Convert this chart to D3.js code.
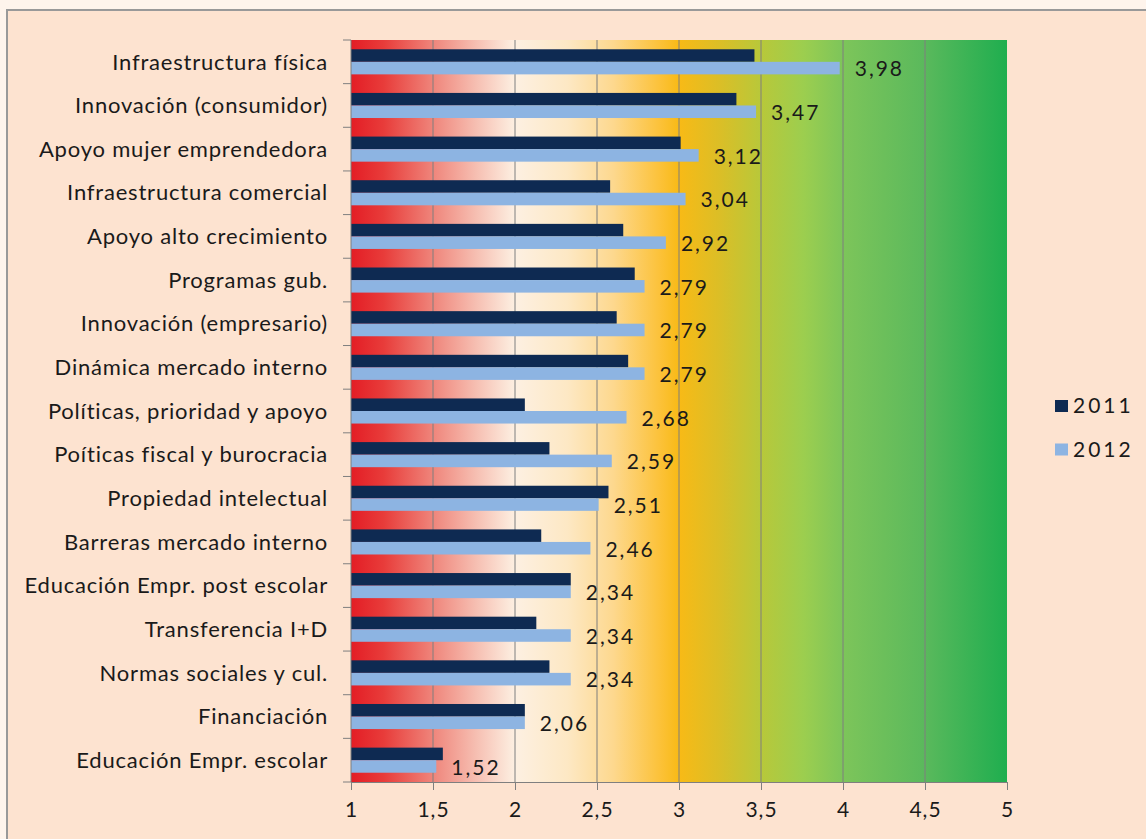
<!DOCTYPE html>
<html>
<head>
<meta charset="utf-8">
<script src="https://cdn.jsdelivr.net/npm/d3@7"></script>
<style>
  body { margin: 0; background: #fef4ec; }
  svg { display: block; font-family: Lato, "DejaVu Sans", sans-serif; }
</style>
</head>
<body>
<div id="chart"></div>
<script>
// data
var categories = [
    "Infraestructura física",
    "Innovación (consumidor)",
    "Apoyo mujer emprendedora",
    "Infraestructura comercial",
    "Apoyo alto crecimiento",
    "Programas gub.",
    "Innovación (empresario)",
    "Dinámica mercado interno",
    "Políticas, prioridad y apoyo",
    "Poíticas fiscal y burocracia",
    "Propiedad intelectual",
    "Barreras mercado interno",
    "Educación Empr. post escolar",
    "Transferencia I+D",
    "Normas sociales y cul.",
    "Financiación",
    "Educación Empr. escolar"
];
var values2011 = [3.46, 3.35, 3.01, 2.58, 2.66, 2.73, 2.62, 2.69, 2.06, 2.21, 2.57, 2.16, 2.34, 2.13, 2.21, 2.06, 1.56];
var values2012 = [3.98, 3.47, 3.12, 3.04, 2.92, 2.79, 2.79, 2.79, 2.68, 2.59, 2.51, 2.46, 2.34, 2.34, 2.34, 2.06, 1.52];
var seriesNames = ["2011", "2012"];
var xTicks = [1, 1.5, 2, 2.5, 3, 3.5, 4, 4.5, 5];

var W = 1146, H = 839;
var margin = { top: 40, right: 139, bottom: 57, left: 351 };
var width = W - margin.left - margin.right;
var height = H - margin.top - margin.bottom;

var colors = { "2011": "#0e2a52", "2012": "#8db4e2" };

var locale = d3.formatLocale({ decimal: ",", thousands: ".", grouping: [3], currency: ["", "€"] });
var fmtTick = locale.format("~g");
var fmtVal = locale.format(".2f");

var svg = d3.select("#chart").append("svg")
    .attr("width", W)
    .attr("height", H);

// frame
svg.append("rect")
    .attr("x", 7).attr("y", 10)
    .attr("width", W).attr("height", H)
    .style("fill", "#fde3d0")
    .style("stroke", "#999")
    .style("stroke-width", 2);

var defs = svg.append("defs");
var grad = defs.append("linearGradient")
    .attr("id", "bg")
    .attr("x1", "0%").attr("x2", "100%")
    .attr("y1", "0%").attr("y2", "0%");
[
    [0, "#e31d25"], [0.05, "#e83c3a"], [0.125, "#ef857b"], [0.19, "#f6beb1"],
    [0.25, "#fdf0e2"], [0.33, "#fde8c4"], [0.4, "#fdd88e"], [0.47, "#fcc23a"],
    [0.5, "#f8ba16"], [0.56, "#dcbe26"], [0.625, "#b8c83a"], [0.69, "#9cce4f"],
    [0.75, "#7dc55a"], [0.875, "#5ab95c"], [1, "#1fae4f"]
].forEach(function (s) {
    grad.append("stop").attr("offset", s[0]).attr("stop-color", s[1]);
});

var g = svg.append("g")
    .attr("transform", "translate(" + margin.left + "," + margin.top + ")");

var x = d3.scaleLinear().domain([1, 5]).range([0, width]);
var y0 = d3.scaleBand().domain(categories).range([0, height]).padding(0);
var y1 = d3.scaleBand().domain(seriesNames).range([0, y0.bandwidth()])
    .paddingInner(0).paddingOuter(0.74);

// gradient background
g.append("rect")
    .attr("width", width).attr("height", height)
    .style("fill", "url(#bg)");

// gridlines
g.selectAll(".grid")
    .data(xTicks.slice(1, -1))
    .enter().append("line")
    .attr("class", "grid")
    .attr("x1", function (d) { return x(d); })
    .attr("x2", function (d) { return x(d); })
    .attr("y1", 0).attr("y2", height)
    .style("stroke", "#7f7f7f")
    .style("stroke-width", 1);

// bars
var rows = categories.map(function (c, i) {
    return { cat: c, vals: [
        { key: "2011", v: values2011[i] },
        { key: "2012", v: values2012[i] }
    ] };
});

var row = g.selectAll(".row")
    .data(rows)
    .enter().append("g")
    .attr("class", "row")
    .attr("transform", function (d) { return "translate(0," + y0(d.cat) + ")"; });

row.selectAll("rect")
    .data(function (d) { return d.vals; })
    .enter().append("rect")
    .attr("x", 0)
    .attr("y", function (d) { return y1(d.key); })
    .attr("width", function (d) { return x(d.v) - x(1); })
    .attr("height", y1.bandwidth())
    .style("fill", function (d) { return colors[d.key]; });

// value labels (2012 only)
row.append("text")
    .attr("x", function (d) { return x(d.vals[1].v) + 15; })
    .attr("y", y1("2012") + y1.bandwidth() / 2 + 1)
    .attr("dy", ".35em")
    .style("font-size", "21px")
    .style("letter-spacing", "2px")
    .style("fill", "#1a1a1a")
    .text(function (d) { return fmtVal(d.vals[1].v); });

// y axis: line + ticks on band boundaries
g.append("line")
    .attr("x1", 0).attr("x2", 0).attr("y1", 0).attr("y2", height)
    .style("stroke", "#7f7f7f");
var bounds = categories.map(function (c) { return y0(c); }).concat([height]);
g.selectAll(".ytick")
    .data(bounds)
    .enter().append("line")
    .attr("x1", -8).attr("x2", 0)
    .attr("y1", function (d) { return d; })
    .attr("y2", function (d) { return d; })
    .style("stroke", "#7f7f7f");

g.selectAll(".cat")
    .data(categories)
    .enter().append("text")
    .attr("class", "cat")
    .attr("x", -23)
    .attr("y", function (d) { return y0(d) + y0.bandwidth() / 2; })
    .attr("dy", ".35em")
    .style("text-anchor", "end")
    .style("font-size", "22px")
    .style("letter-spacing", "0.8px")
    .style("fill", "#1a1a1a")
    .text(function (d) { return d; });

// x axis
var xAxis = g.append("g")
    .attr("transform", "translate(0," + height + ")")
    .call(d3.axisBottom(x).tickValues(xTicks).tickFormat(fmtTick).tickSize(8).tickPadding(12));
xAxis.select(".domain").style("stroke", "#7f7f7f");
xAxis.selectAll(".tick line").style("stroke", "#7f7f7f");
xAxis.selectAll("text")
    .style("font-family", "Lato, sans-serif")
    .style("font-size", "21px")
    .style("letter-spacing", "1px")
    .style("fill", "#1a1a1a");

// legend
var legend = svg.selectAll(".legend")
    .data(seriesNames)
    .enter().append("g")
    .attr("class", "legend")
    .attr("transform", function (d, i) { return "translate(1055," + (400 + i * 43.5) + ")"; });
legend.append("rect")
    .attr("width", 13).attr("height", 12)
    .style("fill", function (d) { return colors[d]; });
legend.append("text")
    .attr("x", 18).attr("y", 6)
    .attr("dy", ".35em")
    .style("font-size", "21px")
    .style("letter-spacing", "3px")
    .style("fill", "#1a1a1a")
    .text(function (d) { return d; });
</script>
</body>
</html>
